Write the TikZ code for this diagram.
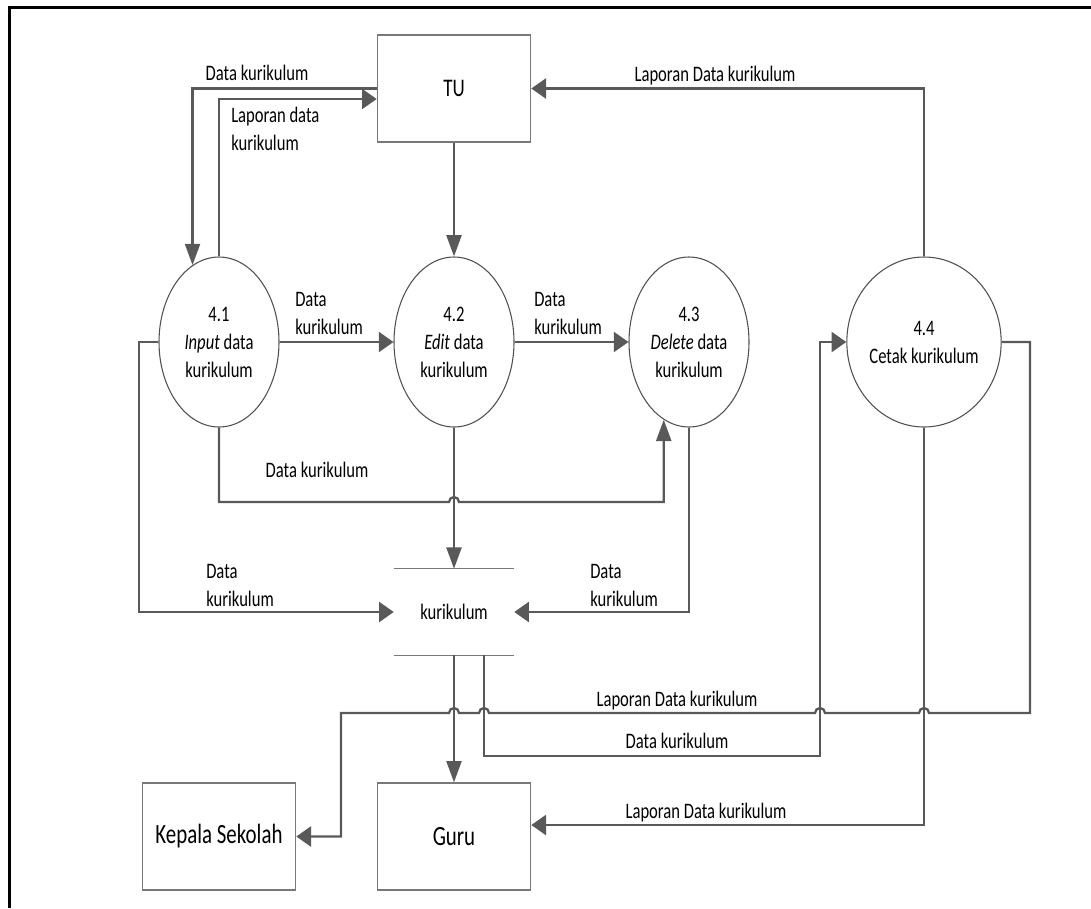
\documentclass[tikz,border=0pt]{standalone}
\usepackage{fontspec}
\setmainfont[FakeStretch=0.75]{Carlito}
\usetikzlibrary{arrows.meta,shapes.geometric,calc}
\definecolor{linec}{RGB}{89,89,89}
\definecolor{ellc}{RGB}{80,80,80}
\definecolor{boxc}{RGB}{120,120,120}
\newcommand\lblfont{\fontsize{16.6pt}{21pt}\selectfont}
\newcommand\bigfnt{\fontsize{20.9pt}{25pt}\selectfont}
\begin{document}
\begin{tikzpicture}[x=0.75pt,y=-0.75pt,
  flow/.style={draw=linec,line width=1.7pt},
  ha/.style={-{Triangle[length=11pt,width=15pt]}},
  va/.style={-{Triangle[length=16pt,width=11.25pt]}},
  proc/.style={ellipse,draw=ellc,line width=0.8pt,fill=white,minimum width=90pt,minimum height=127.5pt,inner sep=0pt,align=center,font=\lblfont},
  ent/.style={rectangle,draw=boxc,line width=1pt,fill=white,minimum width=115pt,minimum height=80.25pt,inner sep=0pt,font=\bigfnt},
  lbl/.style={inner sep=0pt,font=\lblfont,align=left},
  storeline/.style={draw=boxc,line width=1pt}]
\useasboundingbox (0,0) rectangle (1091,908);
% frame
\draw[line width=2.25pt] (9,908) -- (9,7) -- (1091,7);
% nodes
\node[ent,font=\fontsize{19pt}{23pt}\selectfont] (tu) at (454,88.5) {TU};
\node[proc] (p41) at (219,342) {4.1\\\textit{Input} data\\kurikulum};
\node[proc] (p42) at (454,342) {4.2\\\textit{Edit} data\\kurikulum};
\node[proc] (p43) at (689,342) {4.3\\\textit{Delete} data\\kurikulum};
\node[proc] (p44) at (924,342) {4.4\\Cetak kurikulum};
\node[inner sep=0pt,minimum width=90pt,minimum height=64.5pt,font=\lblfont] (store) at (454,612) {kurikulum};
\draw[storeline] (store.north west) -- (store.north east);
\draw[storeline] (store.south west) -- (store.south east);
\node[ent] (ks) at (219,836.5) {Kepala Sekolah};
\node[ent] (guru) at (454,836.5) {Guru};
% connectors
\draw[flow,va] (tu.west) -| (p41.109.6);
\draw[flow,ha] (p41.north) |- ($(tu.west)+(0,10.5)$);
\draw[flow,va] (tu.south) -- (p42.north);
\draw[flow,ha] (p44.north) |- (tu.east);
\draw[flow,ha] (p41.east) -- (p42.west);
\draw[flow,ha] (p42.east) -- (p43.west);
\draw[flow,va] (p41.south) |- (449,502) arc[start angle=180,end angle=0,radius=3.75pt] -| (p43.252);
\draw[flow,va] (p42.south) -- (store.north);
\draw[flow,ha] (p41.west) -- (139,342) |- (store.west);
\draw[flow,ha] (p43.south) |- (store.east);
\draw[flow,va] (store.south) -- (guru.north);
\draw[flow,ha] ($(store.south)+(30,0)$) |- (820,756) |- (p44.west);
\draw[flow,ha] (p44.south) |- ($(guru.east)+(0,-11.5)$);
\draw[flow,ha] (p44.east) -- (1030,342) -- (1030,713) -- (929,713)
  arc[start angle=0,end angle=180,radius=3.75pt] -- (825,713)
  arc[start angle=0,end angle=180,radius=3.75pt] -- (489,713)
  arc[start angle=0,end angle=180,radius=3.75pt] -- (459,713)
  arc[start angle=0,end angle=180,radius=3.75pt] -- (341,713) |- (ks.east);
% labels
\node[lbl,anchor=base] (l1) at (257,80) {Data kurikulum};
\node[lbl,anchor=west] (l2) at (231,129) {Laporan data\\kurikulum};
\node[lbl,anchor=base] (l3) at (715,81) {Laporan Data kurikulum};
\node[lbl,anchor=west] (l4) at (295,313) {Data\\kurikulum};
\node[lbl,anchor=west] (l5) at (534,313) {Data\\kurikulum};
\node[lbl,anchor=base] (l6) at (317,477) {Data kurikulum};
\node[lbl,anchor=west] (l7) at (206,585) {Data\\kurikulum};
\node[lbl,anchor=west] (l8) at (590,585) {Data\\kurikulum};
\node[lbl,anchor=base] (l9) at (677,706) {Laporan Data kurikulum};
\node[lbl,anchor=base] (l10) at (677,748) {Data kurikulum};
\node[lbl,anchor=base] (l11) at (706,818) {Laporan Data kurikulum};
\end{tikzpicture}
\end{document}
